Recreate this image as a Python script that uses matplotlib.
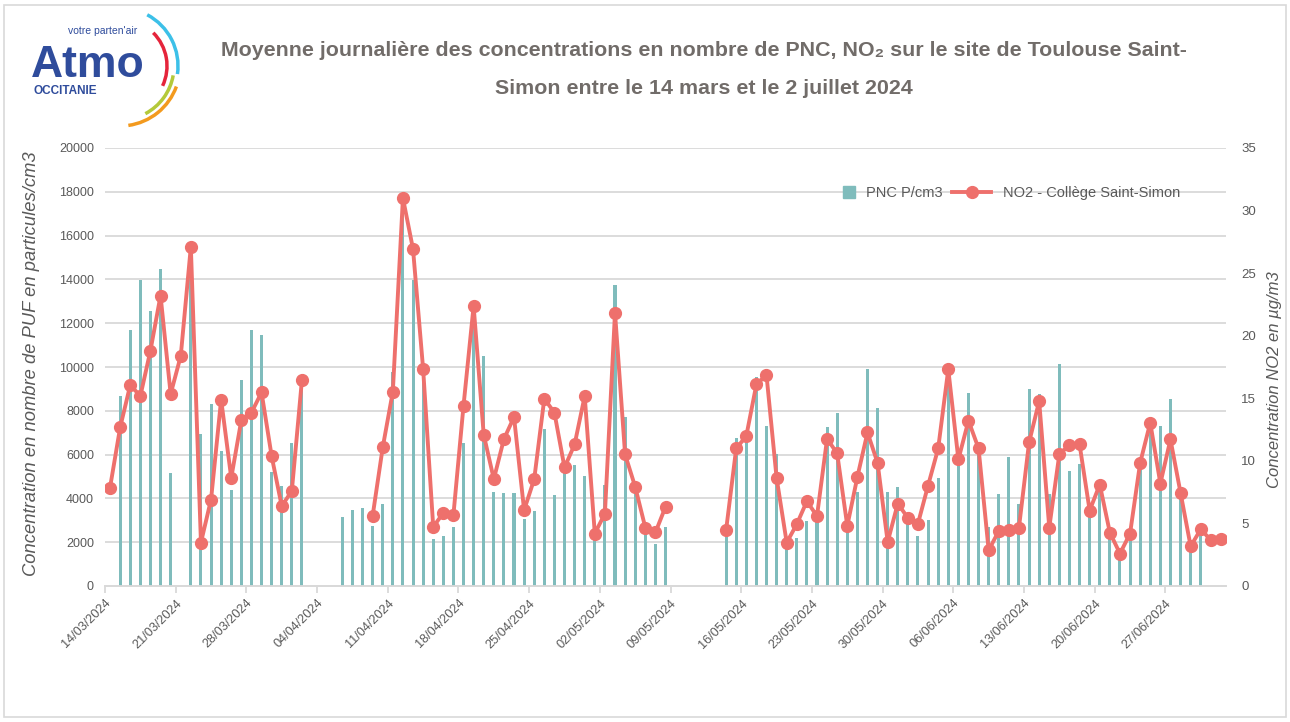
import numpy as np
import pandas as pd
import matplotlib
matplotlib.use('Agg')
import matplotlib.pyplot as plt
from matplotlib.patches import Arc, Rectangle, Patch
from matplotlib.lines import Line2D

plt.rcParams['font.family'] = ['Liberation Sans', 'DejaVu Sans']

# daily data, 14/03/2024 -> 02/07/2024 (None = no measurement)
start = '2024-03-14'
days = pd.date_range(start, '2024-07-02', freq='D')

pnc = [None, 8670, 11690, 13950, 12560, 14480, 5140, None, 14800, 6930,
       8310, 6160, 4370, 9400, 11690, 11480, 5200, 4570, 6550, 9300,
       None, None, None, 3160, 3460, 3550, 2730, 3750, 9750, 17000,
       13980, 9800, 2130, 2280, 2710, 6550, 12000, 10490, 4300, 4250,
       4250, 3050, 3410, 7150, 4150, 5200, 5520, 5030, 2500, 4600,
       13750, 7730, 4500, 2850, 1940, 2700, None, None, None, None,
       None, 2500, 6740, 6800, 9560, 7300, 6050, 1900, 2210, 2960,
       3100, 7240, 7890, 3300, 4280, 9910, 8120, 4280, 4500, 3000,
       2270, 3000, 4920, 9300, 5800, 8820, 6200, 2700, 4190, 5870,
       3750, 8980, 8760, 4190, 10150, 5270, 5590, 3500, 4600, 2400,
       1500, 2240, 5500, 7300, 7300, 8530, 4300, 2000, 2620, None,
       None]

no2 = [7.87, 12.67, 16.06, 15.18, 18.81, 23.21, 15.34, 18.38, 27.1, 3.47,
       6.91, 14.89, 8.64, 13.26, 13.85, 15.47, 10.38, 6.38, 7.60, 16.46,
       None, None, None, None, None, None, 5.60, 11.07, 15.53, 31.0,
       26.92, 17.34, 4.72, 5.84, 5.68, 14.41, 22.38, 12.09, 8.54, 11.74,
       13.50, 6.06, 8.54, 14.97, 13.85, 9.47, 11.31, 15.18, 4.19, 5.79,
       21.85, 10.51, 7.92, 4.67, 4.28, 6.32, None, None, None, None,
       None, 4.46, 10.99, 11.98, 16.11, 16.86, 8.64, 3.47, 4.94, 6.78,
       5.58, 11.77, 10.59, 4.80, 8.72, 12.27, 9.84, 3.52, 6.59, 5.44,
       4.99, 8.03, 10.99, 17.32, 10.11, 13.21, 10.99, 2.85, 4.40, 4.46,
       4.67, 11.47, 14.78, 4.67, 10.54, 11.26, 11.31, 6.03, 8.11, 4.27,
       2.59, 4.19, 9.84, 13.05, 8.19, 11.71, 7.44, 3.17, 4.54, 3.66,
       3.79]

tick_dates = pd.date_range(start, '2024-06-27', freq='7D')

teal = '#7fbcbc'
red = '#ee706c'
grey_txt = '#595959'
grid_c = '#d9d9d9'

pnc = np.array([np.nan if v is None else v for v in pnc], dtype=float)
no2 = np.array([np.nan if v is None else v for v in no2], dtype=float)
x = days + pd.Timedelta(hours=12)

fig = plt.figure(figsize=(12.9, 7.22), dpi=100)
ax1 = fig.add_axes([105 / 1290, 1 - 586 / 722, 1121 / 1290, 438 / 722])
ax2 = ax1.twinx()

ax1.bar(x, pnc, width=0.3, color=teal, zorder=3)
ax2.plot(x, no2, color=red, lw=2.8, marker='o', ms=8.5, zorder=4)

ax1.set_xlim(days[0], days[0] + pd.Timedelta(days=111))
ax1.set_ylim(0, 20000)
ax1.set_yticks(range(0, 20001, 2000))
ax2.set_ylim(0, 35)
ax2.set_yticks(range(0, 36, 5))
ax1.set_xticks(tick_dates)
ax1.set_xticklabels([d.strftime('%d/%m/%Y') for d in tick_dates], rotation=45,
                    ha='right', rotation_mode='anchor')

ax1.grid(axis='y', color=grid_c, lw=1.3, zorder=0)
ax1.set_axisbelow(True)
for ax in (ax1, ax2):
    for s in ('top', 'left', 'right'):
        ax.spines[s].set_visible(False)
    ax.spines['bottom'].set_color(grid_c)
    ax.spines['bottom'].set_linewidth(1.3)
ax1.tick_params(axis='x', length=5, color=grid_c, width=1.3, labelcolor=grey_txt,
                labelsize=9.2, pad=3)
ax1.tick_params(axis='y', length=0, labelcolor=grey_txt, labelsize=9, pad=8)
ax2.tick_params(axis='y', length=0, labelcolor=grey_txt, labelsize=9.5, pad=11)

fig.text(32 / 1290, 1 - 364 / 722, 'Concentration en nombre de PUF en particules/cm3',
         rotation=90, ha='center', va='center', style='italic', color=grey_txt, fontsize=13.2)
fig.text(1274 / 1290, 1 - 380 / 722, 'Concentration NO2 en µg/m3',
         rotation=90, ha='center', va='center', style='italic', color=grey_txt, fontsize=12)

# title (two lines)
title_font = dict(ha='center', va='center', fontsize=15.4, fontweight='bold', color='#716c69')
fig.text(704 / 1290, 1 - 50 / 722,
         'Moyenne journalière des concentrations en nombre de PNC, NO₂ sur le site de Toulouse Saint-',
         **title_font)
fig.text(704 / 1290, 1 - 88 / 722, 'Simon entre le 14 mars et le 2 juillet 2024', **title_font)

# legend
fig.legend([Patch(color=teal)], ['PNC P/cm3'], loc='center left',
           bbox_to_anchor=(843 / 1290, 1 - 193 / 722), frameon=False,
           handlelength=0.85, handleheight=0.85, handletextpad=0.7,
           borderpad=0, borderaxespad=0, fontsize=10.5, labelcolor=grey_txt)
fig.legend([Line2D([], [], color=red, lw=2.8, marker='o', ms=8.5)],
           ['NO2 - Collège Saint-Simon'], loc='center left',
           bbox_to_anchor=(952 / 1290, 1 - 193 / 722), frameon=False,
           handlelength=2.7, handletextpad=0.8, borderpad=0, borderaxespad=0,
           fontsize=10.5, labelcolor=grey_txt)

# logo
lg = fig.add_axes([0, 1 - 130 / 722, 200 / 1290, 130 / 722])
lg.set_xlim(0, 200)
lg.set_ylim(130, 0)
lg.axis('off')
lg.text(31, 77, 'Atmo', fontsize=32, fontweight='bold', color='#2f4c9c', va='baseline')
lg.text(34, 94, 'OCCITANIE', fontsize=8.5, fontweight='bold', color='#2f4c9c', va='baseline')
lg.text(68, 34, "votre parten'air", fontsize=7.5, color='#2f4c9c', va='baseline')
for r, a1, a2, c in [(58, -62, 8, '#3cc0e8'), (47, -45, 25, '#e5243b'),
                     (54, 10, 62, '#b4c93a'), (60, 20, 82, '#f39a1e')]:
    lg.add_patch(Arc((120, 66), 2 * r, 2 * r, theta1=a1, theta2=a2, color=c, lw=2.5))

fig.patches.append(Rectangle((4 / 1290, 5 / 722), 1282 / 1290, 712 / 722,
                             transform=fig.transFigure, fill=False, ec=grid_c, lw=1.2))

fig.savefig('out.png', dpi=100, facecolor='white')
